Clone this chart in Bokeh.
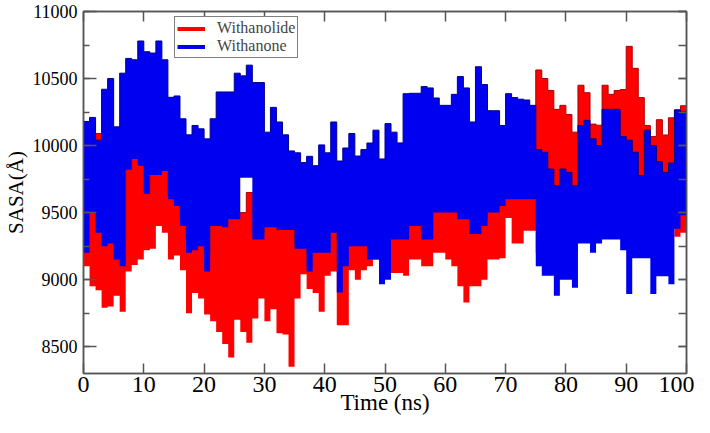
from bokeh.plotting import figure
from bokeh.models import (LinearAxis, SingleIntervalTicker, Range1d, Legend,
                          LegendItem, ColumnDataSource, CustomJSTickFormatter)
from bokeh.embed import file_html
from bokeh.resources import INLINE

time_ns = list(range(0, 101))

withanone_high = [10180, 10210, 10040, 10420, 10500, 10140, 10540, 10650, 10640, 10780,
                  10700, 10690, 10780, 10640, 10360, 10370, 10200, 10080, 10150, 10125,
                  10050, 10200, 10400, 10400, 10400, 10540, 10520, 10600, 10470, 10470,
                  10100, 10285, 10176, 10080, 9960, 9946, 9873, 9920, 9850, 10005,
                  9946, 10176, 9885, 9982, 10090, 9922, 9970, 10019, 10115, 9900,
                  10164, 10100, 10020, 10387, 10390, 10390, 10440, 10430, 10355, 10300,
                  10300, 10382, 10515, 10430, 10176, 10588, 10455, 10260, 10260, 10150,
                  10387, 10358, 10346, 10340, 10300, 9970, 9950, 9825, 9700, 9825,
                  9800, 9700, 10150, 10188, 10050, 10000, 10270, 10270, 10270, 10067,
                  10040, 9950, 9777, 10115, 10000, 9880, 9800, 9870, 10266, 10250, 10250]

withanone_low = [9200, 9500, 9350, 9250, 9270, 9150, 9100, 9820, 9900, 9850,
                 9640, 9780, 9780, 9810, 9600, 9550, 9400, 9200, 9220, 9250,
                 9060, 9400, 9400, 9390, 9450, 9450, 9760, 9760, 9300, 9300,
                 9390, 9390, 9370, 9370, 9370, 9230, 9230, 9060, 9200, 9200,
                 9200, 9350, 8905, 9100, 9250, 9250, 9250, 9150, 9150, 8965,
                 9000, 9300, 9300, 9300, 9400, 9400, 9300, 9300, 9500, 9500,
                 9500, 9500, 9450, 9450, 9340, 9340, 9400, 9500, 9500, 9550,
                 9600, 9600, 9600, 9600, 9600, 9100, 9030, 9030, 8880, 9000,
                 9000, 8940, 9270, 9270, 9200, 9270, 9300, 9300, 9300, 9220,
                 8893, 9160, 9160, 9160, 8893, 9026, 9026, 8965, 9380, 9480, 9480]

withanolide_high = [10000, 9600, 10090, 9400, 9400, 9300, 9300, 9850, 9930, 10000,
                    9670, 9810, 9810, 9840, 9630, 9580, 9450, 9300, 9300, 9300,
                    9200, 9450, 9450, 9450, 9500, 9500, 9500, 9650, 9350, 9350,
                    9400, 9400, 9400, 9400, 9400, 9250, 9250, 9100, 9250, 9250,
                    9250, 9400, 9300, 9300, 9300, 9300, 9300, 9300, 9300, 9300,
                    9300, 9350, 9350, 9350, 9450, 9450, 9350, 9350, 9550, 9550,
                    9550, 9550, 9500, 9500, 9400, 9400, 9450, 9550, 9550, 9600,
                    9650, 9650, 9650, 9650, 9650, 10564, 10500, 10411, 10270, 10300,
                    10232, 10100, 10450, 10394, 10160, 10152, 10450, 10382, 10411, 10418,
                    10740, 10576, 10358, 10150, 10067, 10193, 10079, 10207, 10266, 10297, 10297]

withanolide_low = [9100, 8950, 8920, 8790, 8800, 8880, 8760, 9060, 9110, 9150,
                   9220, 9230, 9400, 9350, 9150, 9180, 9070, 8750, 8900, 8860,
                   8740, 8690, 8610, 8520, 8420, 8700, 8610, 8530, 8710, 8860,
                   8690, 8780, 8600, 8590, 8350, 8860, 9040, 8930, 8900, 8760,
                   9030, 9060, 8660, 8660, 9070, 9000, 9070, 9100, 9150, 9070,
                   9070, 9050, 9050, 9030, 9150, 9150, 9100, 9100, 9200, 9200,
                   9150, 9100, 8950, 8830, 8950, 8950, 9000, 9150, 9150, 9160,
                   9460, 9270, 9270, 9365, 9365, 9200, 9200, 9200, 9200, 9200,
                   9200, 9200, 9400, 9400, 9400, 9400, 9400, 9400, 9400, 9400,
                   9400, 9400, 9400, 9400, 9400, 9400, 9400, 9400, 9320, 9350, 9350]

series_names = ["Withanolide", "Withanone"]
series_colors = ["#ff0000", "#0000f0"]
x_label = "Time (ns)"
y_label = "SASA(Å)"

FONT = "Liberation Serif"
AXIS_COLOR = "#555555"

src = ColumnDataSource(dict(t=time_ns, bh=withanone_high, bl=withanone_low,
                            rh=withanolide_high, rl=withanolide_low))

p = figure(width=694, height=417, output_backend="svg", toolbar_location=None,
           x_range=Range1d(0, 100), y_range=Range1d(8300, 11000),
           min_border_left=79, min_border_right=8, min_border_top=11,
           min_border_bottom=40)

p.varea_step(x="t", y1="rl", y2="rh", step_mode="after", source=src,
             fill_color=series_colors[0])
p.step(x="t", y="rh", mode="after", source=src, line_color="#b00000", line_width=1)
p.varea_step(x="t", y1="bl", y2="bh", step_mode="after", source=src,
             fill_color=series_colors[1])
p.step(x="t", y="bh", mode="after", source=src, line_color="#00008b", line_width=1)

# legend swatches: thick lines over the series, kept hidden in the plot
leg_r = p.step(x="t", y="rh", mode="after", source=src, line_color=series_colors[0],
               line_width=4, visible=False)
leg_b = p.step(x="t", y="bh", mode="after", source=src, line_color=series_colors[1],
               line_width=4, visible=False)

p.xgrid.visible = False
p.ygrid.visible = False
p.outline_line_color = AXIS_COLOR
p.outline_line_width = 1.5
p.background_fill_color = "white"
p.border_fill_color = "white"

xa = p.xaxis[0]
xa.ticker = SingleIntervalTicker(interval=10, num_minor_ticks=0)
ya = p.yaxis[0]
ya.ticker = SingleIntervalTicker(interval=500, num_minor_ticks=2)

for ax in (xa, ya):
    ax.axis_line_color = AXIS_COLOR
    ax.axis_line_width = 1.5
    ax.major_tick_line_color = AXIS_COLOR
    ax.minor_tick_line_color = AXIS_COLOR
    ax.major_tick_line_width = 1.5
    ax.minor_tick_line_width = 1.5
    ax.major_tick_out = 0
    ax.minor_tick_out = 0
    ax.major_label_text_font = FONT
    ax.axis_label_text_font = FONT
    ax.axis_label_text_font_style = "normal"
    ax.axis_label_text_color = "black"
    ax.major_label_text_color = "black"

xa.major_tick_in = 10
xa.major_label_text_font_size = "24px"
xa.major_label_standoff = 3
xa.axis_label = x_label
xa.axis_label_text_font_size = "23px"
xa.axis_label_standoff = -5

ya.major_tick_in = 13
ya.minor_tick_in = 6
ya.major_label_text_font_size = "18px"
ya.major_label_standoff = 6
ya.axis_label = y_label
ya.axis_label_text_font_size = "21px"
ya.axis_label_standoff = 2

top = LinearAxis(ticker=SingleIntervalTicker(interval=10, num_minor_ticks=0),
                 formatter=CustomJSTickFormatter(code="return ''"),
                 major_tick_in=10, major_tick_out=0,
                 axis_line_color=AXIS_COLOR, major_tick_line_color=AXIS_COLOR,
                 axis_line_width=1.5, major_tick_line_width=1.5,
                 major_label_standoff=0)
right = LinearAxis(ticker=SingleIntervalTicker(interval=500, num_minor_ticks=2),
                   formatter=CustomJSTickFormatter(code="return ''"),
                   major_tick_in=8, major_tick_out=0,
                   minor_tick_in=8, minor_tick_out=0,
                   axis_line_color=AXIS_COLOR, major_tick_line_color=AXIS_COLOR,
                   minor_tick_line_color=AXIS_COLOR, axis_line_width=1.5,
                   major_tick_line_width=1.5, minor_tick_line_width=1.5,
                   major_label_standoff=0)
p.add_layout(top, "above")
p.add_layout(right, "right")

legend = Legend(items=[LegendItem(label=series_names[0], renderers=[leg_r]),
                       LegendItem(label=series_names[1], renderers=[leg_b])],
                location=(91, 315))
legend.label_text_font = FONT
legend.label_text_font_size = "16px"
legend.glyph_width = 28
legend.glyph_height = 15
legend.label_height = 15
legend.label_standoff = 12
legend.padding = 2
legend.spacing = 0
legend.margin = 0
legend.border_line_color = "black"
legend.border_line_width = 1
legend.background_fill_alpha = 1
legend.inactive_fill_alpha = 0
legend.click_policy = "none"
p.add_layout(legend)

open("out.html", "w").write(file_html(p, INLINE))
